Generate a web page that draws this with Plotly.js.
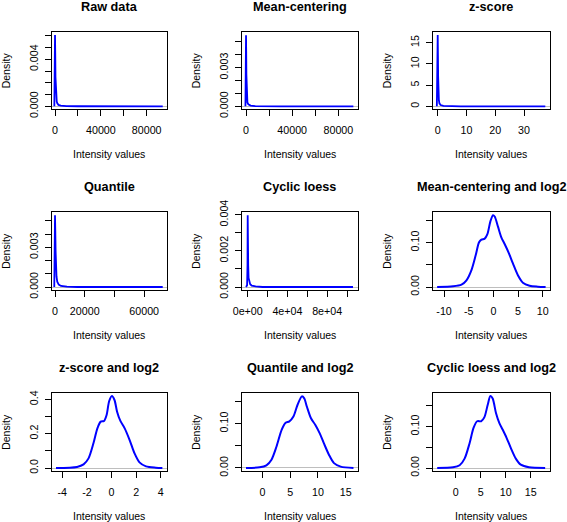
<!DOCTYPE html>
<html><head><meta charset="utf-8">
<script src="https://cdn.plot.ly/plotly-3.0.1.min.js"></script>
<style>html,body{margin:0;padding:0;background:#fff}#chart{width:567px;height:522px}</style>
</head><body><div id="chart"></div>
<script>
// ---------- DATA ----------
const panelTitles = ["Raw data","Mean-centering","z-score","Quantile","Cyclic loess",
  "Mean-centering and log2","z-score and log2","Quantile and log2","Cyclic loess and log2"];
const xAxisLabel = "Intensity values";
const yAxisLabel = "Density";

// 1 Raw data
const rawX = [-600,-200,0,200,400,700,1000,1500,2000,3000,5000,10000,20000,40000,60000,80000,94000];
const rawY = [0,0.0028,0.00606,0.0045,0.0025,0.0013,0.0008,0.0004,0.00025,0.00012,0.00006,0.00002,0.000005,0,0,0,0];
const rawXTicks = [0,20000,40000,60000,80000];
const rawXLabels = ["0","","40000","","80000"];
const rawYTicks = [0,0.001,0.002,0.003,0.004,0.005,0.006];
const rawYLabels = ["0.000","","","","0.004","",""];

// 2 Mean-centering
const mcX = [-500,-150,0,150,300,500,800,1200,2000,4000,8000,15000,30000,60000,93000];
const mcY = [0,0.0025,0.00552,0.0042,0.0025,0.0013,0.0006,0.0003,0.00015,0.00006,0.00002,0,0,0,0];
const mcXTicks = [0,20000,40000,60000,80000];
const mcXLabels = ["0","","40000","","80000"];
const mcYTicks = [0,0.001,0.002,0.003,0.004,0.005];
const mcYLabels = ["0.000","","","0.003","",""];

// 3 z-score
const zX = [-0.3,-0.1,0,0.08,0.15,0.25,0.4,0.6,1.0,2,4,8,20,30,37.4];
const zY = [0,7,16.8,12,7,3.5,1.5,0.7,0.3,0.12,0.04,0,0,0,0];
const zXTicks = [0,10,20,30];
const zXLabels = ["0","10","20","30"];
const zYTicks = [0,5,10,15];
const zYLabels = ["0","5","10","15"];

// 4 Quantile
const qX = [-500,-200,0,200,400,700,1000,1500,2500,4000,8000,15000,30000,50000,72500];
const qY = [0,0.0025,0.00543,0.0042,0.0027,0.0014,0.0008,0.0004,0.00018,0.00008,0.00003,0,0,0,0];
const qXTicks = [0,20000,40000,60000];
const qXLabels = ["0","20000","","60000"];
const qYTicks = [0,0.001,0.002,0.003,0.004,0.005];
const qYLabels = ["0.000","","","0.003","",""];

// 5 Cyclic loess
const clX = [-1700,-600,-200,0,250,500,900,1500,2500,4000,8000,15000,50000,80000,106000];
const clY = [0,0.0001,0.0012,0.00397,0.0025,0.0012,0.0005,0.0003,0.00015,0.00008,0.00003,0,0,0,0];
const clXTicks = [0,20000,40000,60000,80000,100000];
const clXLabels = ["0e+00","","4e+04","","8e+04",""];
const clYTicks = [0,0.001,0.002,0.003,0.004];
const clYLabels = ["0.000","","0.002","","0.004"];

// 6 Mean-centering and log2
const mclX = [-11.4,-8.15,-6.46,-5.45,-4.44,-3.57,-2.9,-2.42,-1.75,-1.21,-0.6,-0.07,0.27,0.94,1.62,2.29,3.16,3.97,4.98,5.99,7.34,9.02,10.6];
const mclY = [0,0.0015,0.0053,0.015,0.038,0.072,0.1008,0.107,0.109,0.119,0.148,0.1619,0.159,0.136,0.112,0.097,0.076,0.053,0.0265,0.0098,0.003,0.0008,0];
const mclXTicks = [-10,-5,0,5,10];
const mclXLabels = ["-10","-5","0","5","10"];
const mclYTicks = [0,0.05,0.10,0.15];
const mclYLabels = ["0.00","","0.10",""];

// 7 z-score and log2
const zlX = [-4.51,-2.8,-2.27,-1.87,-1.47,-1.15,-0.88,-0.61,-0.4,-0.19,0.03,0.24,0.45,0.72,1.07,1.47,1.87,2.27,2.8,3.6,4.13];
const zlY = [0,0.006,0.021,0.056,0.144,0.231,0.27,0.274,0.309,0.39,0.419,0.396,0.328,0.274,0.231,0.163,0.085,0.033,0.0097,0.002,0];
const zlXTicks = [-4,-2,0,2,4];
const zlXLabels = ["-4","-2","0","2","4"];
const zlYTicks = [0,0.1,0.2,0.3,0.4];
const zlYLabels = ["0.0","","0.2","","0.4"];

// 8 Quantile and log2
const qlX = [-2.95,-0.49,0.73,1.64,2.55,3.47,4.19,4.86,5.59,6.32,7.11,7.54,8.02,8.75,9.54,10.33,11.06,11.98,12.89,14.1,16.4];
const qlY = [0,0.0015,0.006,0.0187,0.0485,0.086,0.102,0.105,0.116,0.142,0.1615,0.157,0.138,0.112,0.097,0.078,0.056,0.030,0.011,0.003,0];
const qlXTicks = [0,5,10,15];
const qlXLabels = ["0","5","10","15"];
const qlYTicks = [0,0.05,0.10,0.15];
const qlYLabels = ["0.00","","0.10",""];

// 9 Cyclic loess and log2
const cllX = [-3.7,-0.53,0.79,1.78,2.78,3.57,4.3,5.09,5.75,6.41,6.94,7.4,8.06,8.72,9.39,10.18,11.04,12.03,13.02,14.67,17.9];
const cllY = [0,0.0016,0.0065,0.0226,0.060,0.097,0.113,0.113,0.123,0.153,0.174,0.168,0.133,0.109,0.093,0.073,0.048,0.0226,0.008,0.0016,0];
const cllXTicks = [0,5,10,15];
const cllXLabels = ["0","5","10","15"];
const cllYTicks = [0,0.05,0.10,0.15];
const cllYLabels = ["0.00","","0.10",""];

// ---------- LAYOUT ----------
const W = 567, H = 522;
const FONT = '"Liberation Sans", Arial, Helvetica, sans-serif';
const colPx = [[51.7,166.7],[241.7,357.7],[432.7,550]];
const rowPx = [[32.3,109],[212.3,290],[393.3,471]];

const panels = [
  {x:rawX,y:rawY,xt:rawXTicks,xl:rawXLabels,yt:rawYTicks,yl:rawYLabels,xr:[-2900,97450],yr:[-0.00023,0.0063],smooth:false},
  {x:mcX,y:mcY,xt:mcXTicks,xl:mcXLabels,yt:mcYTicks,yl:mcYLabels,xr:[-3750,96750],yr:[-0.000207,0.00574],smooth:false},
  {x:zX,y:zY,xt:zXTicks,xl:zXLabels,yt:zYTicks,yl:zYLabels,xr:[-1.74,39.03],yr:[-0.63,17.44],smooth:false},
  {x:qX,y:qY,xt:qXTicks,xl:qXLabels,yt:qYTicks,yl:qYLabels,xr:[-2230,75170],yr:[-0.000227,0.005647],smooth:false},
  {x:clX,y:clY,xt:clXTicks,xl:clXLabels,yt:clYTicks,yl:clYLabels,xr:[-6040,110740],yr:[-0.000166,0.00413],smooth:false},
  {x:mclX,y:mclY,xt:mclXTicks,xl:mclXLabels,yt:mclYTicks,yl:mclYLabels,xr:[-12.3,11.49],yr:[-0.00677,0.1684],smooth:true},
  {x:zlX,y:zlY,xt:zlXTicks,xl:zlXLabels,yt:zlYTicks,yl:zlYLabels,xr:[-4.86,4.48],yr:[-0.0175,0.435],smooth:true},
  {x:qlX,y:qlY,xt:qlXTicks,xl:qlXLabels,yt:qlYTicks,yl:qlYLabels,xr:[-3.72,17.16],yr:[-0.0068,0.1684],smooth:true},
  {x:cllX,y:cllY,xt:cllXTicks,xl:cllXLabels,yt:cllYTicks,yl:cllYLabels,xr:[-4.6,18.87],yr:[-0.00726,0.1806],smooth:true}
];

const traces = [];
const layout = {
  width: W, height: H,
  margin: {l:0,r:0,t:0,b:0},
  paper_bgcolor: '#fff', plot_bgcolor: '#fff',
  showlegend: false,
  font: {family: FONT, color: '#000', size: 10.7},
  annotations: []
};

panels.forEach((p, i) => {
  const r = Math.floor(i/3), c = i%3;
  const n = i === 0 ? '' : String(i+1);
  const xa = 'xaxis' + n, ya = 'yaxis' + n;
  const [x0,x1] = colPx[c], [y0,y1] = rowPx[r];
  traces.push({
    type: 'scatter', mode: 'lines', x: p.x, y: p.y,
    xaxis: 'x' + n, yaxis: 'y' + n,
    line: {color: '#0000ff', width: p.smooth ? 2 : 1.8, shape: p.smooth ? 'spline' : 'linear', smoothing: 0.8},
    hoverinfo: 'skip'
  });
  const common = {
    ticks: 'outside', ticklen: 6, tickwidth: 1, tickcolor: '#000',
    showline: true, mirror: true, linecolor: '#000', linewidth: 1,
    showgrid: false, fixedrange: true,
    tickfont: {family: FONT, size: 10.7, color: '#000'}
  };
  layout[xa] = Object.assign({}, common, {
    domain: [x0/W, x1/W], range: p.xr, anchor: 'y' + n,
    tickmode: 'array', tickvals: p.xt, ticktext: p.xl, zeroline: false,
    ticklabelstandoff: 5
  });
  layout[ya] = Object.assign({}, common, {
    domain: [1 - y1/H, 1 - y0/H], range: p.yr, anchor: 'x' + n,
    tickmode: 'array', tickvals: p.yt, ticktext: p.yl, tickangle: -90,
    zeroline: true, zerolinecolor: '#bebebe', zerolinewidth: 1,
    ticklabelstandoff: 2
  });
  const cx = (x0 + x1) / 2, cy = (y0 + y1) / 2;
  layout.annotations.push({
    text: '<b>' + panelTitles[i] + '</b>', xref: 'paper', yref: 'paper',
    x: cx / W, y: 1 - (y0 - 25) / H, xanchor: 'center', yanchor: 'middle',
    showarrow: false, font: {family: FONT, size: 12.7, color: '#000'}
  });
  layout.annotations.push({
    text: xAxisLabel, xref: 'paper', yref: 'paper',
    x: cx / W, y: 1 - (y1 + 45) / H, xanchor: 'center', yanchor: 'middle',
    showarrow: false, font: {family: FONT, size: 10.5, color: '#000'}
  });
  layout.annotations.push({
    text: yAxisLabel, xref: 'paper', yref: 'paper', textangle: -90,
    x: (x0 - 46) / W, y: 1 - cy / H, xanchor: 'center', yanchor: 'middle',
    showarrow: false, font: {family: FONT, size: 10.5, color: '#000'}
  });
});

Plotly.newPlot('chart', traces, layout, {displayModeBar: false, staticPlot: true});
</script>
</body></html>
